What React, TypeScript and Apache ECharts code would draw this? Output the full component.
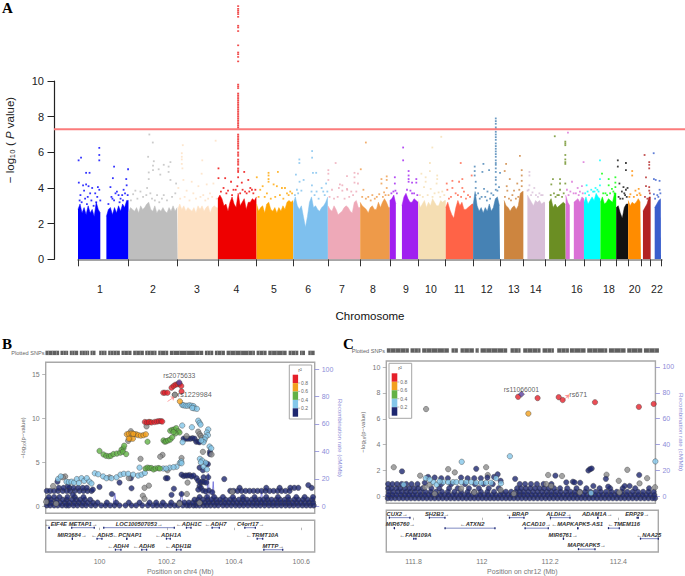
import React, { useEffect, useRef } from "react";
import * as echarts from "echarts";

// ---------- Panel A ----------
const chrSizes = [249,243,198,191,181,171,159,146,141,135,135,133,115,107,102,90,81,78,59,63,48,51];
const chrColors = ["#0000ff","#bebebe","#fde0c2","#ee0000","#ffa500","#7ec0ee","#eea9b8","#ee9a49","#a020f0","#f5deb3","#ff6347","#4682b4","#cd853f","#d8bfd8","#6b8e23","#da70d6","#00ffff","#00ff00","#111111","#ff8c00","#b22222","#3a5fcd"];
const chrLabelsShown = ["1","2","3","4","5","6","7","8","9","10","11","12","13","14","16","18","20","22"];
const chrLabelCum = [108,370,587,782,967,1135,1302,1455,1618,1741,1882,2016,2150,2258,2461,2619,2746,2856];
const ENV_STEP = 10;
const envelopes: (number | null)[][] = [
  [2.8,3.1,2.6,2.9,2.5,3.0,2.6,2.8,2.4,3.2,2.8,2.6,null,null,2.4,2.8,2.9,2.5,2.9,2.6,3.0,2.7,3.1,2.9,3.3],
  [2.6,2.9,2.8,2.7,2.9,2.6,3.0,2.8,2.9,3.1,3.2,2.8,2.7,3.0,2.6,2.8,2.7,2.9,2.7,2.6,2.9,2.7,3.0,2.7,2.9],
  [2.8,3.1,2.8,3.0,2.7,2.9,2.8,2.7,2.9,2.6,3.0,2.8,3.0,2.7,2.9,3.0,2.6,2.9,3.0,2.9],
  [3.4,3.6,3.4,3.0,3.1,2.7,3.2,3.5,3.1,2.9,3.7,3.0,3.2,3.4,2.8,3.2,3.2,3.4,3.3,3.5],
  [3.1,2.7,2.9,3.0,2.6,3.1,3.2,2.8,2.7,2.9,2.6,2.9,2.7,3.0,2.8,3.2,3.3,3.2,3.3],
  [3.1,3.5,3.0,2.8,3.0,2.4,1.8,2.4,3.2,3.5,2.9,3.0,2.8,2.7,2.9,3.0,3.2,3.5],
  [3.0,2.8,2.7,3.0,2.8,2.5,2.6,2.7,2.9,3.0,2.9,2.7,2.6,3.2,3.3,2.9],
  [3.2,3.0,2.9,2.8,2.6,2.9,3.0,2.8,2.8,3.2,2.9,3.2,3.4,3.2,2.9],
  [3.3,3.4,3.6,3.1,null,null,3.0,3.5,3.7,3.4,3.2,3.2,3.4,3.3,3.2],
  [3.3,2.9,3.1,3.3,2.9,3.2,3.0,3.4,3.2,3.0,3.0,3.3,3.2,3.3],
  [2.9,3.2,2.8,2.5,2.3,2.9,3.3,3.0,3.2,2.8,2.8,2.9,3.0,3.1],
  [3.0,3.8,3.0,2.7,2.9,2.6,2.9,2.7,3.1,2.7,2.9,3.4,3.5,3.0],
  [null,null,3.3,3.0,2.9,2.7,2.9,3.0,2.8,3.0,3.7,3.8],
  [null,null,3.6,3.4,3.2,3.0,3.3,3.2,3.3,3.1,3.2],
  [null,null,3.2,3.4,2.9,3.1,2.9,3.0,3.1,3.2,3.1],
  [3.6,3.2,3.0,null,3.2,3.3,3.4,3.2,3.5,3.4],
  [3.2,3.5,3.1,3.3,3.5,3.3,3.7,3.5,3.4],
  [3.2,3.5,3.1,3.2,3.4,3.3,3.2,3.7],
  [2.9,3.0,2.6,2.3,2.9,3.1],
  [3.3,3.0,3.2,3.1,3.2,3.4,3.2],
  [null,2.7,2.9,3.1,3.5],
  [null,null,2.9,3.1,3.3,3.4],
];
const chrPoints: number[][][] = [
  [[3,5.55],[15,5.7],[105,6.25],[105,5.85],[105,5.55],[178,5.2],[247,5.05],[40,4.85],[57,4.85],[172,4.55],[238,4.5],[4,4.3],[25,4.15],[40,4.2],[52,4.1],[70,4],[98,4.05],[105,3.9],[160,4.05],[185,3.7],[200,3.6],[225,3.9],[240,4.15],[30,3.85],[60,3.7],[85,3.7],[95,3.5],[170,3.4],[210,3.4],[232,3.7],[12,3.6],[48,3.5],[192,3.8],[218,3.6],[8,3.3],[18,3.2],[35,3.4],[44,3.1],[66,3.3],[77,3],[90,3.2],[110,3.3],[150,3.1],[165,3.5],[178,3.3],[205,3.2],[222,3.3],[245,3.6]],
  [[103,7],[120,6.55],[97,5.75],[125,5.5],[121,5.25],[121,5],[174,5.3],[198,5.2],[207,5.45],[149,5.05],[100,4.87],[100,4.5],[157,4.75],[198,4.9],[207,4.45],[235,4.25],[92,4],[34,3.85],[23,3.65],[59,3.8],[108,3.7],[141,3.6],[174,3.6],[231,3.7],[12,3.3],[44,3.4],[72,3.5],[88,3.6],[116,3.4],[130,3.3],[152,3.2],[165,3.4],[190,3.3],[215,3.5]],
  [[25,6.4],[20,5.95],[20,5.75],[20,5.6],[20,5.35],[23,5.1],[121,5.55],[187,6.65],[28,4.45],[69,4.35],[118,4.8],[102,4.1],[143,4.2],[176,4.25],[3,4],[44,3.85],[77,3.7],[126,3.6],[159,3.7],[12,3.4],[34,3.5],[58,3.3],[90,3.4],[112,3.5],[136,3.3],[150,3.4],[170,3.5],[192,3.4]],
  [[3,5.1],[3,4.55],[36,4.55],[65,4.35],[100,4.9],[100,4.6],[118,4.3],[130,4.9],[150,4.45],[160,4],[28,4],[77,3.9],[134,3.8],[175,3.7],[185,3.9],[50,3.85],[88,3.9],[15,3.8],[42,3.7],[70,3.6],[96,4.1],[110,3.7],[122,3.9],[142,3.7],[155,3.8],[168,3.9]],
  [[1,4.6],[59,4.85],[59,4.7],[59,4.5],[59,4.35],[105,4.9],[125,4],[166,3.8],[18,3.9],[51,3.7],[100,4.1],[84,4.2],[140,4],[30,4.1],[150,3.7],[10,3.5],[40,3.5],[70,3.4],[92,3.5],[115,3.6],[132,3.4],[158,3.6],[175,3.7]],
  [[13,4.75],[31,4.35],[51,4.45],[97,4.85],[113,4.85],[93,6.07],[93,5.7],[30,5.6],[30,5.4],[92,4.15],[140,4],[162,4.25],[18,3.9],[115,3.8],[40,3.85],[148,3.8],[8,3.6],[24,3.7],[90,3.8],[105,3.6],[125,3.4],[155,3.6],[168,3.8]],
  [[38,5.4],[2,5],[2,4.8],[2,4.45],[59,4.2],[54,4],[95,3.9],[71,4.15],[94,4.66],[131,4.85],[131,4.6],[131,4.3],[148,4.8],[148,4.25],[94,3.95],[71,3.85],[115,3.8],[20,3.9],[8,3.5],[30,3.4],[48,3.5],[82,3.4],[105,3.5],[124,3.6],[140,3.8]],
  [[3,5.05],[28,6.55],[16,3.9],[60,3.6],[105,4.5],[105,4.25],[131,4.65],[131,4.45],[131,4],[118,3.75],[94,3.65],[82,3.5],[40,3.5],[10,3.5],[28,3.4],[52,3.3],[72,3.4],[112,3.5],[125,3.6],[140,3.6]],
  [[66,6.27],[66,5.55],[93,4.95],[93,4.7],[93,4.5],[93,4.35],[25,4.6],[25,4.25],[28,3.85],[110,4.3],[131,4.5],[131,4.3],[102,3.85],[110,3.7],[8,3.7],[18,3.8],[35,3.7],[85,3.9],[120,3.7],[136,3.6]],
  [[113,6.87],[69,6.27],[57,5.4],[57,4.95],[15,4.8],[36,4.6],[36,4.35],[93,4.7],[93,4.5],[90,4.25],[28,4.05],[61,3.95],[118,3.8],[80,3.7],[100,3.75],[8,3.6],[22,3.5],[46,3.6],[70,3.5],[108,3.5],[128,3.6]],
  [[74,5.4],[5,4.25],[33,4.4],[33,4],[66,4.35],[82,4.5],[82,4],[128,4.7],[8,3.9],[49,3.7],[90,3.8],[110,3.6],[16,3.4],[26,3.5],[60,3.6],[76,3.5],[100,3.4],[120,3.5]],
  [[8,5.2],[8,4.95],[8,4.7],[51,5.35],[46,4.9],[79,5],[13,4.35],[13,4],[13,3.6],[54,3.95],[71,3.8],[133,4.85],[112,5.3],[112,5.1],[112,4.9],[112,4.6],[112,4.45],[128,4.05],[120,3.85],[25,3.7],[90,3.7],[60,3.5],[112,7.9],[112,7.75],[112,7.6],[112,7.4],[112,7.3],[112,7.15],[112,7],[112,6.85],[112,6.7],[112,6.5],[112,6.35],[112,6.2],[112,6.05],[112,5.9],[112,5.75],[112,5.55],[112,5.4],[33,3.4],[42,3.5],[68,3.3],[84,3.4],[100,3.6],[112,4.2],[112,3.9]],
  [[98,5.8],[30,5.35],[23,4.95],[48,4.5],[33,4.1],[36,3.85],[69,3.85],[107,5],[107,4.7],[107,4.4],[107,4.1],[85,4.25],[61,3.6],[95,3.9],[24,3.5],[44,3.4],[54,3.3],[78,3.4],[90,3.5]],
  [[30,4.9],[30,4.7],[30,4.15],[54,4],[21,3.85],[79,3.7],[95,3.6],[45,3.75],[26,3.9],[38,3.6],[62,3.6],[72,3.5],[88,3.6]],
  [[48,6.9],[100,6.6],[100,6.5],[100,6.4],[100,5.85],[100,5.6],[100,5.45],[100,5.35],[39,4.5],[31,4.2],[74,4.5],[74,4.25],[74,3.9],[100,4.25],[61,3.6],[44,3.7],[28,3.6],[52,3.5],[68,3.6],[84,3.5],[92,3.7]],
  [[11,7.1],[31,4.35],[88,5.45],[59,4],[80,4.1],[23,3.8],[39,3.7],[70,3.8],[6,3.9],[14,3.6],[50,3.7],[64,3.6],[84,3.7]],
  [[13,4.15],[79,5.55],[79,4.5],[79,4.15],[57,4],[25,3.6],[66,3.9],[45,3.8],[6,3.7],[18,3.8],[36,3.9],[52,3.8],[72,3.8]],
  [[8,4.8],[41,4.5],[41,4.15],[74,4.6],[74,4.3],[74,4.05],[25,3.7],[57,3.95],[14,3.7],[33,3.6],[48,3.7],[64,3.8],[70,3.7]],
  [[8,5.55],[8,5.2],[48,5.4],[48,5],[16,4.25],[36,4.05],[56,4],[28,3.8],[44,3.6],[20,3.4],[52,3.5],[12,3.5],[32,3.4],[40,3.7],[48,3.9]],
  [[20,4.95],[20,4.7],[52,3.95],[36,3.85],[11,3.65],[61,3.6],[6,3.5],[28,3.5],[44,3.6],[56,3.7]],
  [[18,5.85],[41,5.45],[41,5.3],[41,5.1],[25,4.6],[25,4.1],[41,4.05],[41,3.85],[20,3.5],[32,3.4],[44,3.7]],
  [[15,5.95],[16,4.5],[25,4.45],[44,4.4],[16,3.65],[44,3.9],[33,3.6],[22,3.4],[38,3.5],[48,3.7]],
];
const chr4SpikePos = 100;
const chr4Spike = [14.2,14.05,13.95,13.85,13.75,13.6,13.1,13,12.8,12,11.6,11.5,11.35,11.1,9.8,9.7,9.6,9.3,9.2,9.1,9,8.9,8.8,8.7,8.6,8.5,8.4,8.3,8.2,8.1,8,7.9,7.8,7.7,7.6,7.5,7.4,7.3,7,6.9,6.8,6.7,6.6,6.5,6.4,6.3,6.2,6,5.9,5.8,5.6,5.5,5.4,5.3,5.1,5];
const gwasLine = 7.3;

// ---------- Panel colours ----------
const ldRed = "#e5202a";
const ldOrange = "#f2a01e";
const ldGreen = "#62b146";
const ldBlue = "#84c7ea";
const ldNavy = "#1d2770";
const ldGray = "#8c8c8c";
const leadPurple = "#5b3f9e";

// ---------- Panel B ----------
const bRed = [[216,13.5],[222,13.7],[228,13.85],[234,13.9],[240,13.95],[245,13.7],[246,13.08],[191,12.93],[196,12.93],[204,12.93],[136,9.6],[142,9.55],[148,9.6],[156,9.55],[165,9.6],[172,9.65],[178,9.7],[184,9.7],[188,9.65]];
const bOrange = [[241,11.95],[151,9.6],[82,8.2],[88,8.25],[96,8.3],[104,8.2],[110,8.2],[116,8.1],[124,8.05],[132,8.1],[139,8.2],[92,7.7],[100,7.7],[88,7.7],[101,8.25]];
const bGreen = [[192,7.5],[196,7.35],[200,7.4],[206,7.5],[212,7.6],[218,7.85],[212,8.6],[218,8.7],[224,8.75],[230,8.9],[236,8.55],[240,8.4],[228,8.3],[222,8.45],[144,7.35],[0,6.3],[12,5.9],[20,5.75],[28,5.7],[34,5.75],[42,5.95],[52,6],[62,6.1],[66,6.45],[72,6.6],[74,6.9],[70,6.2],[80,5.95],[138,4.3],[144,4.4],[150,4.35],[156,4.35],[162,4.2],[168,4.3],[176,4.35],[181,4.3]];
const bGray = [[226,12.7],[141,9.1],[94,8.55],[86,7.45],[261,8],[123,5.4],[189,5.85],[182,5.65],[246,5.5],[-103,3.4],[-139,2.3],[148,2.35],[-110,3.3],[135,2.1],[130,1.2],[135,0.85],[264,2.7],[262,1.4],[30,3.3],[88,3.2],[296,8.5],[300,8.2],[304,8],[308,7.8],[312,7.5],[204,4.1],[-160,0.5],[-130,0.3],[240,0.3],[300,0.4],[398,1.65],[310,6.2],[336,5.9]];
const bBlue = [[248,11.55],[252,11.5],[258,11.45],[264,11.45],[270,11.5],[276,11.45],[282,11.4],[284,11.15],[292,11.1],[278,11.2],[248,9.2],[277,9],[296,9.75],[300,9.5],[303,9.3],[326,8.75],[322,8.4],[325,8.1],[318,7.9],[315,7.6],[312,7.3],[305,7.5],[249,7.3],[330,6.8],[335,6.6],[301,5.4],[308,5.2],[318,4.95],[241,4.95],[245,5.1],[-14,3.76],[-4,3.65],[11,3.4],[21,3.2],[36,3.2],[51,3.3],[63,3.6],[73,3.7],[86,3.7],[101,3.6],[116,3.5],[126,3.6],[136,3.8],[191,4.3],[211,4.4],[231,4.5],[246,4.9],[-99,2.8],[-92,2.75],[-84,2.8],[-76,2.7],[-68,3.1],[-62,2.65],[-54,3.2],[-46,2.9],[-38,3.2],[-30,2.8],[-24,2.6],[200,4.3],[222,4.45],[120,4.4],[304,5],[312,4.5],[322,4.2],[-124,3.1],[-116,3.4]];
const bNavyHigh = [[252,7.7],[258,7.7],[265,7.7],[272,7.7],[279,7.75],[285,7.7],[290,7.35],[296,7.35],[300,7.3],[331,6.2],[331,5.95],[320,4.85],[325,4.8],[246,3.6],[252,3.45],[258,3.5],[264,3.5],[270,3.55],[276,3.4],[282,3.5],[291,3.2],[296,2.9],[302,2.7],[308,2.8],[314,2.75],[320,2.7],[326,3.3],[312,3.3],[300,2.3],[304,2.1],[296,1.9],[310,1.8],[318,1.7],[328,1.8],[338,1.6],[374,3.1],[94,3.2],[199,3.2],[204,3.2],[223,2],[216,1.3],[246,1.4],[96,2.05],[0,2.2],[-126,2.8],[-95,2.3],[300,4.4],[310,4.1],[-80,1.3],[-20,1.9],[37,1.4],[60,2.7],[626,2.4]];
const bNavyRowVals = [0.1,0.42,0.75,1.05,1.75,2.1];
const bNavyRows = [
  [-158,-148,-136,-125,-112,-100,-92,-78,-66,-52,-40,-25,-12,5,18,32,45,60,78,96,110,128,145,160,172,185,198,212,225,236,250,262,270,282,290,300,312,322,333,345,356,370,382,395,408,420,432,445,458,470,482,495,508,520,532,545,558,570,582,595,608,620,632,642],
  [-156,-144,-130,-118,-104,-90,-76,-62,-50,-36,-20,-6,22,50,88,120,150,170,190,215,240,255,268,280,292,304,316,328,340,352,364,376,388,400,412,424,436,448,460,472,484,496,508,520,532,544,556,568,580,592,604,616,628,640],
  [-157,-145,-128,-110,-98,-82,-70,-58,-44,-28,285,296,310,324,336,350,362,378,392,404,418,430,442,456,468,480,492,504,516,530,542,556,568,584,596,610,624,638],
  [-152,-136,-120,-96,-74,-48,300,322,344,370,400,430,465,500,535,565,590,615,640],
  [-158,-148,-136,-124,-110,-98,-88,-74,-60,-48,-36,-24,392,402,414,426,438,450,462,474,486,498,510,522,534,546,558,570],
  [-122,-108,-90,-78,-64,-50,-38,420,500,540,572,584,596,636],
];
const bLead = [[239,14.1]];
const bRecPos = [-160,40,46,50,170,240,246,250,320,326,330,336,341,345,420,480,486,490,640];
const bRecRate = [0.6,0.8,9.5,0.8,0.8,0.9,10.7,1,1.2,24,2,2,18,1,0.8,0.8,10.7,0.8,0.7];
const bStripSeg = [[137,178],[182,205],[210,235],[240,268],[272,287],[298,320],[325,360],[365,395],[400,432],[436,470],[475,505],[510,610],[615,640],[645,675],[680,765],[770,800],[805,860],[866,895],[900,915],[925,944]];
const bStripLight = [145,158,170,190,198,216,224,246,255,262,278,304,312,332,340,350,372,384,408,420,442,452,462,482,496,520,538,560,585,598,622,630,652,664,690,705,722,745,758,778,790,815,830,848,874,886,905,932];
const bGeneNames = ["←EIF4E","METAP1→","LOC100507053→","←ADH1C","←ADH7","C4orf17→","MIR3684→","←ADH5","←PCNAP1","←ADH1A","←TRMT10A","←ADH4","←ADH6","←ADH1B","MTTP→"];
const bGeneStart = [-153,-85,11,259,336,434,-83,-9,80,199,471,46,125,229,491];
const bGeneEnd = [-149,-14,226,276,361,469,-82,9,81,214,491,66,143,246,551];
const bGeneLabel = [-131,-49,119,268,348,453,-82,8,83,206,488,56,133,236,521];
const bGeneRow = [0,0,0,0,0,0,1,1,1,1,1,2,2,2,2];

// ---------- Panel C ----------
const cRed = [[113,7.7],[172,7.6],[236,7.67],[248,7.45],[346,7.28],[479,6.92],[524,7.15]];
const cOrange = [[144,6.4]];
const cGray = [[-166,6.75],[-264,2.25],[-99,2.1],[-79,1.85],[16,2.25],[21,1.65],[-184,1.6],[204,1.65],[246,1.57],[381,1.67],[418,1.2],[444,2.05],[481,1],[504,1.4],[198,0.95],[213,0.8],[-170,0.7],[-155,0.9],[-140,0.2],[-60,0.6],[-20,0.3],[60,0.5],[100,0.2],[300,0.3],[420,0.3],[528,0.7]];
const cBlue = [[-58,2.67],[88,3.1],[529,2.7],[-167,1.4],[-144,1.1],[-134,0.9],[-114,1.1],[-99,1.1],[-84,1.1],[-74,1.1],[-59,1.1],[-44,1.1],[-29,1.1],[-14,1.05],[1,1.05],[16,1.05],[31,1.05],[46,1.4],[61,1],[-234,0.9],[334,0.25],[-155,1.3],[-125,1.15]];
const cNavyHigh = [[-239,1.93],[-14,2.13],[226,1.6],[259,1.08],[279,1.13],[284,1.08],[301,1.05],[326,2],[331,2.1],[336,2.15],[379,1.35],[386,0.75],[436,0.8],[451,0.8],[480,1.65],[104,1.35],[51,1.7],[341,0.8],[-160,1.5],[-140,1.45],[-120,1.4],[-100,1.4],[-60,1.45],[-40,1.4],[-20,1.4],[0,1.4],[20,1.45],[40,1.5],[60,1.2],[-170,1.05]];
const cNavyRowVals = [-0.15,0.1,0.35,0.62,0.95];
const cNavyRows = [
  [-282,-272,-260,-248,-236,-224,-212,-200,-188,-176,-164,-152,-140,-128,-116,-104,-92,-80,-68,-56,-44,-32,-20,-8,4,16,28,40,52,64,76,88,100,112,124,136,148,160,172,184,196,208,220,232,244,256,268,280,292,304,316,328,340,352,364,376,388,400,412,424,436,448,460,472,484,496,508,520,528],
  [-280,-268,-256,-242,-230,-218,-206,-194,-182,-170,-158,-146,-134,-122,-110,-98,-86,-74,-62,-50,-38,-26,-14,-2,10,22,34,46,58,70,82,94,106,118,130,142,154,166,178,190,202,214,226,238,250,262,274,286,298,310,322,334,346,358,370,382,394,406,418,430,442,454,466,478,490,502,514,526],
  [-279,-266,-252,-240,-226,-214,-200,-184,-168,-152,-136,-118,-100,-80,-60,-40,-20,0,20,40,62,76,92,106,118,130,144,158,172,186,200,214,228,242,258,272,286,300,316,332,348,364,380,396,412,428,444,460,476,492,508,524],
  [-281,-270,-256,-244,-230,-216,-202,-190,-176,-150,-126,-96,-70,-36,-6,24,54,110,122,136,150,164,178,192,206,222,240,262,290,320,360,392,430,468,510],
  [-281,-268,-254,-240,-226,-210,-192,-120,-90,-48,-18,8,36,118,134,152,170,190,214],
];
const cLead = [[123,7.9]];
const cRecPos = [-290,-100,60,200,300,420,530];
const cRecRate = [0.6,0.8,0.6,0.7,0.5,0.7,0.6];
const cStripSeg = [[139,205],[210,240],[245,325],[333,352],[360,400],[405,415],[420,500],[510,540],[548,600],[606,640],[650,685],[688,735],[740,800],[805,855],[860,905],[910,955]];
const cStripLight = [150,165,180,195,222,232,258,272,290,310,342,370,385,412,436,452,470,488,520,532,560,575,590,620,632,662,675,700,720,755,770,790,820,840,872,890,925,942];
const cGeneNames = ["CUX2→","SH2B3→","←BRAP","ALDH2→","ADAM1A→","ERP29→","MIR6760→","←ATXN2","ACAD10→","←MAPKAPK5-AS1","←TMEM116","←FAM109A","MIR6761→","←NAA25","MAPKAPK5→"];
const cGeneStart = [-279,-159,81,204,346,464,-264,-112,128,286,378,-206,243,474,288];
const cGeneEnd = [-214,-109,128,266,347,471,-263,41,201,287,414,-196,244,531,341];
const cGeneLabel = [-254,-134,106,231,346,466,-244,-29,164,286,426,-199,244,501,314];
const cGeneRow = [0,0,0,0,0,0,1,1,1,1,1,2,2,2,3];

const legendColors = [ldRed, ldOrange, ldGreen, ldBlue, ldNavy];
const legendLabels = ["0.8","0.6","0.4","0.2"];

const SANS = "Liberation Sans";
const REC_BLUE = "#8c8cd8";
// readings were taken on zoomed crops: one crop unit in kb per panel
const toB = (k: number) => 100 + (k * 0.992) / 1000;
const toC = (k: number) => 112 + (k * 0.977) / 1000;

function starts() {
  const out: number[] = [0];
  chrSizes.forEach((s) => out.push(out[out.length - 1] + s));
  return out;
}

function circleSeries(name: string, pts: number[][], to: (k: number) => number, color: string, xi: number, yi: number, extra: any = {}) {
  return {
    name, type: "scatter", xAxisIndex: xi, yAxisIndex: yi, silent: true, animation: false,
    data: pts.map((p) => [to(p[0]), p[1]]),
    symbol: "circle", symbolSize: 5.4,
    itemStyle: { color, borderColor: "#3a3a3a", borderWidth: 0.5 },
    ...extra,
  };
}

function expandRows(vals: number[], rows: number[][]) {
  const out: number[][] = [];
  rows.forEach((r, i) => r.forEach((k) => out.push([k, vals[i]])));
  return out;
}

function stripSeries(seg: number[][], light: number[], to: (k: number) => number, zero: number, xi: number, yi: number) {
  const rects = seg.map((s) => [to(s[0] - zero), to(s[1] - zero), 0]).concat(light.map((l) => [to(l - zero), to(l - zero + 1.6), 1]));
  return {
    type: "custom", xAxisIndex: xi, yAxisIndex: yi, silent: true,
    data: rects,
    renderItem: (params: any, api: any) => {
      const a = api.coord([api.value(0), 0]);
      const b = api.coord([api.value(1), 1]);
      return {
        type: "rect",
        shape: { x: a[0], y: b[1], width: b[0] - a[0], height: a[1] - b[1] },
        style: { fill: api.value(2) === 1 ? "#b4b4b4" : "#5f5f5f" },
      };
    },
  };
}

function geneSeries(names: string[], s: number[], e: number[], l: number[], r: number[], to: (k: number) => number, xi: number, yi: number) {
  return {
    type: "custom", xAxisIndex: xi, yAxisIndex: yi, silent: true, clip: false,
    data: names.map((_, i) => [to(s[i]), to(e[i]), to(l[i]), r[i]]),
    renderItem: (params: any, api: any) => {
      const row = api.value(3);
      const a = api.coord([api.value(0), row]);
      const b = api.coord([api.value(1), row]);
      const t = api.coord([api.value(2), row]);
      const ink = "#2a3a9a";
      const kids: any[] = [
        { type: "line", shape: { x1: a[0], y1: a[1], x2: Math.max(b[0], a[0] + 0.8), y2: a[1] }, style: { stroke: ink, lineWidth: 0.6 } },
        { type: "rect", shape: { x: a[0], y: a[1] - 1, width: 1.2, height: 2 }, style: { fill: "#1d2770" } },
        { type: "rect", shape: { x: Math.max(b[0] - 1.2, a[0]), y: a[1] - 1, width: 1.2, height: 2 }, style: { fill: "#1d2770" } },
        { type: "text", style: { x: t[0], y: t[1] - 4, text: names[params.dataIndex], align: "center", verticalAlign: "middle", fill: "#333", font: `italic bold 5.8px "${SANS}"` } },
      ];
      return { type: "group", children: kids };
    },
  };
}

function legendGraphic(boxX: number, boxY: number, boxW: number, boxH: number, sx: number, sy: number, sw: number, sh: number, tx: number, ty: number, tickY: number[]) {
  const els: any[] = [
    { type: "rect", z: 100, shape: { x: boxX, y: boxY, width: boxW, height: boxH }, style: { fill: "#fff", stroke: "#a6a6a6", lineWidth: 1 } },
    { type: "text", z: 101, x: tx, y: ty, style: { text: "r²", align: "center", verticalAlign: "middle", fill: "#555", font: `5.5px "${SANS}"` } },
  ];
  legendColors.forEach((c, i) => {
    els.push({ type: "rect", z: 101, shape: { x: sx, y: sy + (i * sh) / 5, width: sw, height: sh / 5 }, style: { fill: c } });
  });
  legendLabels.forEach((t, i) => {
    els.push({ type: "line", z: 101, shape: { x1: sx + sw, y1: tickY[i], x2: sx + sw + 2, y2: tickY[i] }, style: { stroke: "#777", lineWidth: 0.5 } });
    els.push({ type: "text", z: 101, x: sx + sw + 3, y: tickY[i], style: { text: t, align: "left", verticalAlign: "middle", fill: "#666", font: `5px "${SANS}"` } });
  });
  return els;
}

function letter(t: string, x: number, y: number) {
  return { type: "text", x, y, style: { text: t, fill: "#000", align: "left", verticalAlign: "middle", font: `bold 15px "Liberation Serif"` } };
}
function snpsLabel(x: number, y: number) {
  return { type: "text", x, y, style: { text: "Plotted SNPs", fill: "#666", align: "right", verticalAlign: "middle", font: `5.6px "${SANS}"` } };
}

function buildOption() {
  const st = starts();
  const total = st[st.length - 1] + 5;
  const tickVals = st.filter((v) => v <= 2876);
  const labelMap: Record<string, string> = {};
  chrLabelCum.forEach((v, i) => { labelMap[String(v)] = chrLabelsShown[i]; });

  const hiddenX = (gridIndex: number, min: number, max: number, extra: any = {}) => ({
    type: "value", gridIndex, min, max, axisLine: { show: false }, axisTick: { show: false }, axisLabel: { show: false }, splitLine: { show: false }, ...extra,
  });
  const hiddenY = hiddenX;
  const frame = { show: true, borderColor: "#a8a8a8", borderWidth: 1.4, backgroundColor: "#fff" };

  const grids = [
    { left: 54, right: 0, top: 81, height: 178.3 },
    { left: 78, width: 584, top: 81, height: 178.3 },
    { left: 45.7, width: 269, top: 362.3, height: 151, ...frame },
    { left: 45.7, width: 269, top: 520.3, height: 31.7, ...frame },
    { left: 45.7, width: 269, top: 350.7, height: 4.4 },
    { left: 386.3, width: 272, top: 361, height: 142.3, ...frame },
    { left: 386.3, width: 272, top: 510.3, height: 43.7, ...frame },
    { left: 386.3, width: 272, top: 348.3, height: 4.4 },
  ];

  const geneAxis = (gi: number, min: number, max: number, ticks: number[], name: string, gap: number) => ({
    type: "value", gridIndex: gi, min, max, position: "bottom",
    axisLine: { show: false },
    axisTick: { show: true, length: 2.5, customValues: ticks, lineStyle: { color: "#999", width: 0.7 } },
    axisLabel: { show: true, customValues: ticks, color: "#777", fontSize: 7, fontFamily: SANS, margin: 6, hideOverlap: false, showMinLabel: true, showMaxLabel: true },
    splitLine: { show: false },
    name, nameLocation: "middle", nameGap: gap, nameTextStyle: { color: "#777", fontSize: 7, fontFamily: SANS },
  });

  const xAxis = [
    hiddenX(0, 0, 1),
    {
      type: "value", gridIndex: 1, min: 0, max: total, position: "bottom", offset: 9.5,
      axisLine: { show: true, lineStyle: { color: "#888", width: 1.6 } },
      axisTick: { show: true, length: 7, customValues: tickVals, lineStyle: { color: "#333", width: 1 } },
      axisLabel: { show: true, customValues: chrLabelCum, formatter: (v: number) => labelMap[String(v)] ?? "", color: "#222", fontSize: 10.5, fontFamily: SANS, margin: 15, hideOverlap: false, showMinLabel: true, showMaxLabel: true },
      splitLine: { show: false },
      name: "Chromosome", nameLocation: "middle", nameGap: 41, nameTextStyle: { color: "#111", fontSize: 11.5, fontFamily: SANS },
    },
    hiddenX(2, 99.84, 100.64),
    geneAxis(3, 99.84, 100.64, [100, 100.2, 100.4, 100.6], "Position on chr4 (Mb)", 16),
    hiddenX(4, 99.84, 100.64),
    hiddenX(5, 111.72, 112.517),
    geneAxis(6, 111.72, 112.517, [111.8, 112, 112.2, 112.4], "Position on chr12 (Mb)", 16),
    hiddenX(7, 111.72, 112.517),
  ];

  const leftAxis = (gi: number, min: number, max: number, ticks: number[]) => ({
    type: "value", gridIndex: gi, min, max, position: "left",
    axisLine: { show: false },
    axisTick: { show: true, length: 3.5, customValues: ticks, lineStyle: { color: "#999", width: 0.7 } },
    axisLabel: { show: true, customValues: ticks, color: "#777", fontSize: 7, fontFamily: SANS, margin: 6, showMinLabel: true, showMaxLabel: true },
    splitLine: { show: false },
    name: "−log₁₀(p−value)", nameLocation: "middle", nameGap: 20, nameTextStyle: { color: "#666", fontSize: 6, fontFamily: SANS },
  });
  const rightAxis = (gi: number, min: number, max: number, gap: number) => ({
    type: "value", gridIndex: gi, min, max, position: "right",
    axisLine: { show: false },
    axisTick: { show: true, length: 4.5, customValues: [0, 20, 40, 60, 80, 100], lineStyle: { color: REC_BLUE, width: 0.8 } },
    axisLabel: { show: true, customValues: [0, 20, 40, 60, 80, 100], color: REC_BLUE, fontSize: 7, fontFamily: SANS, margin: 7, showMinLabel: true, showMaxLabel: true },
    splitLine: { show: false },
    name: "Recombination rate (cM/Mb)", nameLocation: "middle", nameGap: gap, nameRotate: -90,
    nameTextStyle: { color: REC_BLUE, fontSize: 6.2, fontFamily: SANS },
  });

  const yAxis = [
    {
      type: "value", gridIndex: 0, min: 0, max: 10, interval: 2, position: "left",
      axisLine: { show: true, lineStyle: { color: "#222", width: 1.2 } },
      axisTick: { show: true, length: 6.5, lineStyle: { color: "#222", width: 1 } },
      axisLabel: { color: "#222", fontSize: 11, fontFamily: SANS, margin: 10 },
      splitLine: { show: false },
    },
    hiddenY(1, 0, 10),
    leftAxis(2, -0.8, 16.4, [0, 5, 10, 15]),
    rightAxis(2, -5.1, 104.9, 19),
    hiddenY(3, -0.67, 2.21, { inverse: true }),
    hiddenY(4, 0, 1),
    leftAxis(5, -0.54, 10.47, [0, 2, 4, 6, 8, 10]),
    rightAxis(5, -5.4, 104.6, 20),
    hiddenY(6, -0.7, 3.27, { inverse: true }),
    hiddenY(7, 0, 1),
  ];

  const series: any[] = [];
  // Panel A
  chrSizes.forEach((_, c) => {
    const data = envelopes[c].map((v, i) => [st[c] + Math.min(i * ENV_STEP, chrSizes[c]), v === null ? null : v]);
    data.push([st[c] + chrSizes[c], envelopes[c][envelopes[c].length - 1]]);
    series.push({
      type: "line", xAxisIndex: 1, yAxisIndex: 1, silent: true, showSymbol: false, symbol: "none", connectNulls: false,
      data, lineStyle: { width: 0.5, color: chrColors[c] }, areaStyle: { color: chrColors[c], opacity: 1 }, itemStyle: { color: chrColors[c] },
    });
    series.push({
      type: "scatter", xAxisIndex: 1, yAxisIndex: 1, silent: true, clip: false,
      data: chrPoints[c].map((p) => [st[c] + p[0], p[1]]),
      symbol: "rect", symbolSize: 1.8, itemStyle: { color: chrColors[c] },
    });
  });
  series.push({
    type: "scatter", xAxisIndex: 1, yAxisIndex: 1, silent: true, clip: false,
    data: chr4Spike.map((v) => [st[3] + chr4SpikePos, v]),
    symbol: "rect", symbolSize: [2, 1.6], itemStyle: { color: "#ee2020" },
  });
  series.push({
    type: "line", xAxisIndex: 0, yAxisIndex: 0, silent: true, showSymbol: false, symbol: "none",
    data: [[0, gwasLine], [1, gwasLine]], lineStyle: { color: "#fb7b7b", width: 2 }, z: 5,
  });

  // Panel B
  const bY = 2, bX = 2;
  series.push({
    type: "line", xAxisIndex: bX, yAxisIndex: 3, silent: true, showSymbol: false, symbol: "none",
    data: bRecPos.map((p, i) => [toB(p), bRecRate[i]]), lineStyle: { color: "#6a6ad8", width: 0.8 }, z: 1,
  });
  series.push(circleSeries("navy", [...expandRows(bNavyRowVals, bNavyRows), ...bNavyHigh], toB, ldNavy, bX, bY));
  series.push(circleSeries("gray", bGray, toB, ldGray, bX, bY, { z: 3 }));
  series.push(circleSeries("blue", bBlue, toB, ldBlue, bX, bY, { z: 4 }));
  series.push(circleSeries("green", bGreen, toB, ldGreen, bX, bY, { z: 5 }));
  series.push(circleSeries("orange", bOrange, toB, ldOrange, bX, bY, { z: 6 }));
  series.push(circleSeries("red", bRed, toB, ldRed, bX, bY, { z: 7 }));
  series.push(circleSeries("lead", bLead, toB, leadPurple, bX, bY, {
    z: 8,
    label: { show: true, position: "top", distance: 1, formatter: "rs2075633", color: "#333", fontSize: 6.8, fontFamily: SANS },
  }));
  series.push(circleSeries("snp", [[226, 12.7]], toB, ldGray, bX, bY, {
    z: 8,
    label: { show: true, position: "right", distance: 0, formatter: "rs1229984", color: "#333", fontSize: 7.2, fontFamily: SANS },
    markLine: {
      silent: true, animation: false, symbol: ["none", "arrow"], symbolSize: 4, label: { show: false },
      lineStyle: { color: "#ff8f8f", width: 0.8, type: "solid" },
      data: [[{ coord: [toB(204), 11.94] }, { coord: [toB(226), 12.5] }]],
    },
  }));
  series.push(geneSeries(bGeneNames, bGeneStart, bGeneEnd, bGeneLabel, bGeneRow, toB, 3, 4));
  series.push(stripSeries(bStripSeg, bStripLight, toB, 299, 4, 5));

  // Panel C
  const cX = 5, cY = 6;
  series.push({
    type: "line", xAxisIndex: cX, yAxisIndex: 7, silent: true, showSymbol: false, symbol: "none",
    data: cRecPos.map((p, i) => [toC(p), cRecRate[i]]), lineStyle: { color: "#6a6ad8", width: 0.8 }, z: 1,
  });
  series.push(circleSeries("navy", expandRows(cNavyRowVals, cNavyRows), toC, ldNavy, cX, cY));
  series.push(circleSeries("gray", cGray, toC, ldGray, cX, cY, { z: 3 }));
  series.push(circleSeries("navy2", cNavyHigh, toC, ldNavy, cX, cY, { z: 3 }));
  series.push(circleSeries("blue", cBlue, toC, ldBlue, cX, cY, { z: 4 }));
  series.push(circleSeries("orange", cOrange, toC, ldOrange, cX, cY, { z: 6 }));
  series.push(circleSeries("red", cRed, toC, ldRed, cX, cY, { z: 7 }));
  series.push(circleSeries("lead", cLead, toC, leadPurple, cX, cY, {
    z: 8, symbol: "diamond", symbolSize: 6.2,
    label: { show: true, position: "top", distance: 0, offset: [0, 2], formatter: "rs11066001", color: "#333", fontSize: 6.8, fontFamily: SANS },
  }));
  series.push(circleSeries("snp", [[268, 7.87]], toC, "transparent", cX, cY, {
    z: 8, symbolSize: 0,
    label: { show: true, position: "right", distance: 0, formatter: "rs671", color: "#333", fontSize: 7.2, fontFamily: SANS },
    markLine: {
      silent: true, animation: false, symbol: ["none", "arrow"], symbolSize: 4, label: { show: false },
      lineStyle: { color: "#ff8f8f", width: 0.8, type: "solid" },
      data: [[{ coord: [toC(251), 7.44] }, { coord: [toC(268), 7.87] }]],
    },
  }));
  series.push(geneSeries(cGeneNames, cGeneStart, cGeneEnd, cGeneLabel, cGeneRow, toC, 6, 8));
  series.push(stripSeries(cStripSeg, cStripLight, toC, 424, 7, 9));

  const graphic = {
    elements: [
      letter("A", 2, 8),
      letter("B", 2, 344),
      letter("C", 343, 344),
      snpsLabel(44.5, 352.8),
      snpsLabel(385, 350.5),
      {
        type: "text", x: 10, y: 140, rotation: Math.PI / 2,
        style: {
          text: "{a|− log₁₀ ( }{i|P}{a| value)}", align: "center", verticalAlign: "middle",
          rich: {
            a: { fontSize: 11.5, fontFamily: SANS, fill: "#222" },
            i: { fontSize: 11.5, fontFamily: SANS, fontStyle: "italic", fill: "#222" },
          },
        },
      },
      ...legendGraphic(289.3, 365, 22.4, 54, 292.7, 374.7, 5.4, 42, 300, 370, [383, 391.4, 399.8, 408.2]),
      ...legendGraphic(389, 363.3, 22.7, 55, 391.7, 373.3, 5.6, 42.4, 400, 368, [382, 390.3, 398.7, 407]),
    ],
  };

  return { animation: false, backgroundColor: "#fff", textStyle: { fontFamily: SANS }, grid: grids, xAxis, yAxis, series, graphic, tooltip: { show: false } };
}

export default function App() {
  const ref = useRef<HTMLDivElement>(null);
  useEffect(() => {
    document.body.style.margin = "0";
    const chart = echarts.init(ref.current!, null, { renderer: "svg" });
    chart.setOption(buildOption() as any);
    return () => chart.dispose();
  }, []);
  return <div ref={ref} style={{ width: 685, height: 576 }} />;
}
